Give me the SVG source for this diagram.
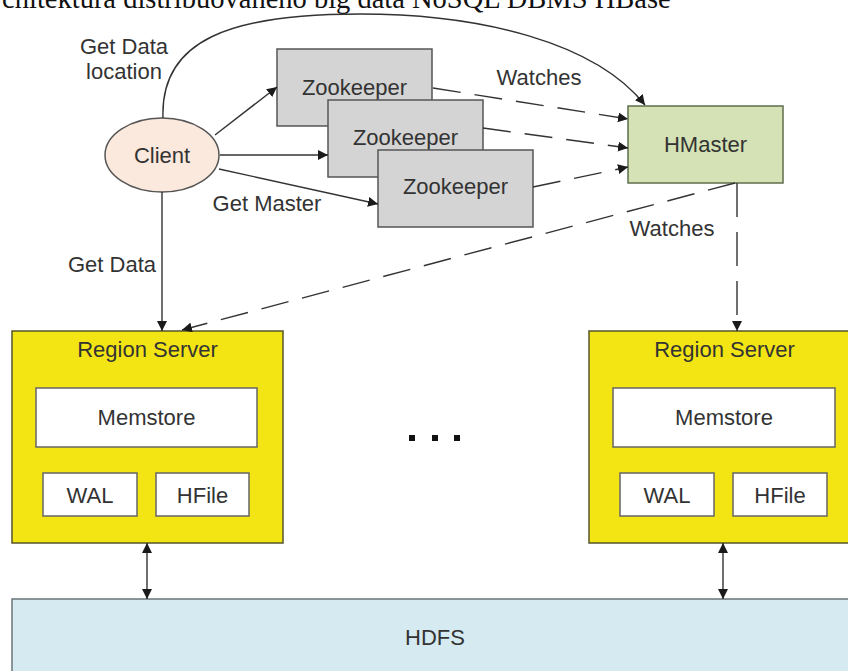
<svg xmlns="http://www.w3.org/2000/svg" width="848" height="671" viewBox="0 0 848 671">
<style>
.lbl{font-family:"Liberation Sans",Arial,sans-serif;font-size:22px;fill:#333;text-anchor:middle}
.title{font-family:"Liberation Serif","Times New Roman",serif;font-size:28.5px;fill:#111}
.zk{fill:#d4d4d4;stroke:#555;stroke-width:1.5}
.rs{fill:#f3e514;stroke:#55552a;stroke-width:1.5}
.wb{fill:#fff;stroke:#666;stroke-width:1.5}
.ln{fill:none;stroke:#333;stroke-width:1.4}
.dl{fill:none;stroke:#333;stroke-width:1.4;stroke-dasharray:28 14}
</style>
<defs>
<marker id="ah" viewBox="0 0 10 10" refX="10" refY="5" markerWidth="10" markerHeight="10" markerUnits="userSpaceOnUse" orient="auto-start-reverse">
<path d="M0,0 L10,5 L0,10 z" fill="#1a1a1a"/>
</marker>
</defs>
<rect width="848" height="671" fill="#fff"/>
<text class="title" x="-28" y="8">Architektura distribuovaného big data NoSQL DBMS HBase</text>

<g id="hdfs">
<rect x="12" y="599" width="850" height="90" fill="#d6eaf2" stroke="#6a7478" stroke-width="1.5"/>
<text class="lbl" x="435" y="645" font-size="21">HDFS</text>
</g>

<g id="client">
<ellipse cx="162" cy="155" rx="57" ry="37" fill="#fce9dd" stroke="#555" stroke-width="1.5"/>
<text class="lbl" x="162" y="163">Client</text>
</g>

<g id="zookeeper1">
<rect class="zk" x="277" y="49" width="155" height="77"/>
<text class="lbl" x="354.5" y="95">Zookeeper</text>
</g>
<g id="zookeeper2">
<rect class="zk" x="328" y="100" width="155" height="77"/>
<text class="lbl" x="405.5" y="145">Zookeeper</text>
</g>
<g id="zookeeper3">
<rect class="zk" x="378" y="150" width="155" height="77"/>
<text class="lbl" x="455.5" y="194">Zookeeper</text>
</g>

<g id="hmaster">
<rect x="628" y="106" width="155" height="77" fill="#d4e2b5" stroke="#5e6e4c" stroke-width="1.5"/>
<text class="lbl" x="705.5" y="152">HMaster</text>
</g>

<g id="regionserver1">
<rect class="rs" x="12" y="331" width="271" height="212"/>
<text class="lbl" x="147.5" y="357">Region Server</text>
<rect class="wb" x="36" y="388" width="221" height="59"/>
<text class="lbl" x="146.5" y="425">Memstore</text>
<rect class="wb" x="43" y="473" width="94" height="43"/>
<text class="lbl" x="90" y="503">WAL</text>
<rect class="wb" x="156" y="473" width="93" height="43"/>
<text class="lbl" x="202.5" y="503">HFile</text>
</g>

<g id="regionserver2">
<rect class="rs" x="589" y="331" width="271" height="212"/>
<text class="lbl" x="724.5" y="357">Region Server</text>
<rect class="wb" x="613" y="388" width="222" height="59"/>
<text class="lbl" x="724" y="425">Memstore</text>
<rect class="wb" x="620" y="473" width="94" height="43"/>
<text class="lbl" x="667" y="503">WAL</text>
<rect class="wb" x="733" y="473" width="94" height="43"/>
<text class="lbl" x="780" y="503">HFile</text>
</g>

<g id="ellipsis" fill="#111">
<rect x="409" y="435" width="6" height="6"/>
<rect x="432" y="435" width="6" height="6"/>
<rect x="454" y="435" width="6" height="6"/>
</g>

<g id="connectors">
<path class="ln" d="M163,118 C160,40 230,14 360,14 C480,14 595,42 645,105" marker-end="url(#ah)"/>
<line class="ln" x1="215" y1="135" x2="277" y2="87" marker-end="url(#ah)"/>
<line class="ln" x1="220" y1="155" x2="328" y2="155" marker-end="url(#ah)"/>
<line class="ln" x1="219" y1="169" x2="378" y2="204" marker-end="url(#ah)"/>
<line class="ln" x1="162" y1="192" x2="162" y2="331" marker-end="url(#ah)"/>
<line class="dl" x1="433" y1="88" x2="628" y2="119" marker-end="url(#ah)"/>
<line class="dl" x1="483" y1="128" x2="628" y2="148" marker-end="url(#ah)"/>
<line class="dl" x1="533" y1="187" x2="628" y2="167" marker-end="url(#ah)"/>
<line class="dl" x1="735" y1="183" x2="182" y2="330" marker-end="url(#ah)"/>
<line class="ln" x1="737" y1="183" x2="737" y2="331" stroke-dasharray="34 15" marker-end="url(#ah)"/>
<line class="ln" x1="147" y1="543" x2="147" y2="599" marker-start="url(#ah)" marker-end="url(#ah)"/>
<line class="ln" x1="723" y1="543" x2="723" y2="599" marker-start="url(#ah)" marker-end="url(#ah)"/>
</g>

<g id="labels">
<text class="lbl" x="124" y="54">Get Data</text>
<text class="lbl" x="124" y="79">location</text>
<text class="lbl" x="267" y="211">Get Master</text>
<text class="lbl" x="539" y="85">Watches</text>
<text class="lbl" x="672" y="236">Watches</text>
<text class="lbl" x="112" y="272">Get Data</text>
</g>
</svg>
